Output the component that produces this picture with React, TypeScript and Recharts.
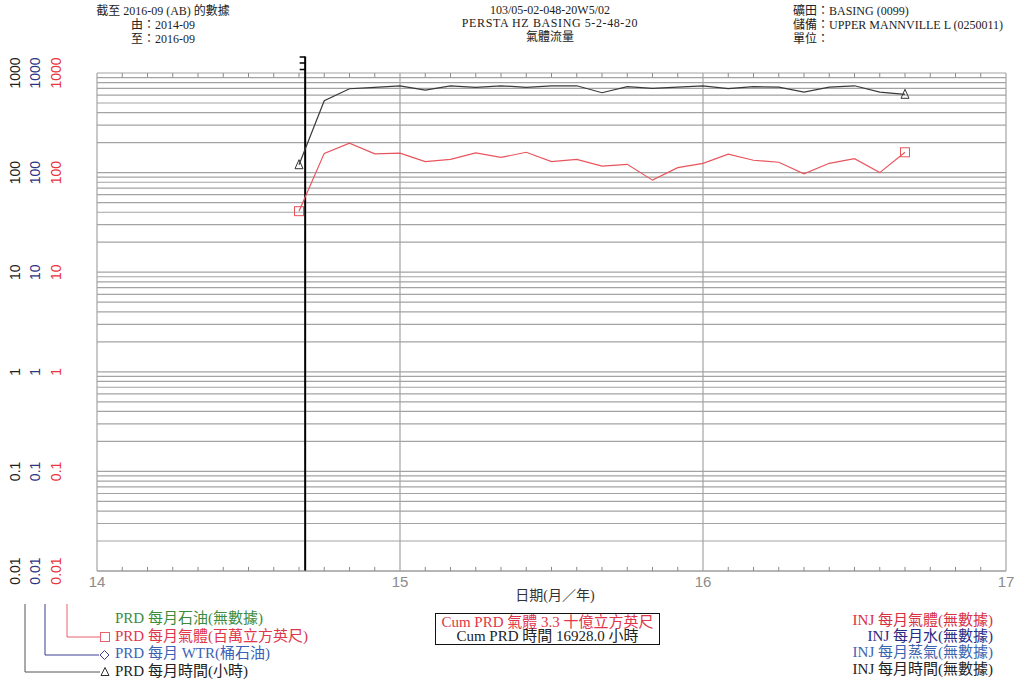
import React from 'react';
import { LineChart, Line, XAxis, YAxis, CartesianGrid, ReferenceLine } from 'recharts';

// Monthly production, first month on stream through 2016-09
const months = [
  '2014-09', '2014-10', '2014-11', '2014-12', '2015-01', '2015-02', '2015-03',
  '2015-04', '2015-05', '2015-06', '2015-07', '2015-08', '2015-09', '2015-10',
  '2015-11', '2015-12', '2016-01', '2016-02', '2016-03', '2016-04', '2016-05',
  '2016-06', '2016-07', '2016-08', '2016-09',
];
// gas, MMcf per month
const gasMMcf = [
  41, 156, 197, 154, 157, 129, 136, 158, 142, 160, 129, 136, 116, 121,
  84, 112, 124, 153, 133, 127, 97, 124, 138, 100, 160,
];
// producing hours per month
const hoursOn = [
  120, 527, 695, 718, 744, 672, 744, 718, 744, 718, 744, 744, 634, 730,
  702, 722, 744, 696, 730, 720, 644, 720, 744, 643, 611,
];

const yearTicks = [14, 15, 16, 17];
const decades = [0.01, 0.1, 1, 10, 100, 1000];
const minorSteps = [2, 3, 4, 5, 6, 7, 8, 9];
const yAxisColors = ['#1e1e1e', '#2d3483', '#e8343a'];
const onProduction = 14.687;
// month tick marks run from the frame edge a short way into the plot
const topTickSpan: [number, number] = [1000, 910];
const bottomTickSpan: [number, number] = [0.01, 0.011];

const serif = '"Liberation Serif", "Noto Sans CJK TC", serif';
const sans = '"Liberation Sans", Arial, sans-serif';

const toYear = (m: string) => Number(m.slice(2, 4)) + (Number(m.slice(5, 7)) - 1) / 12;

const data = months.map((m, i) => ({ t: toYear(m), gas: gasMMcf[i], hours: hoursOn[i] }));

const monthTicks = yearTicks
  .slice(0, -1)
  .flatMap((y) => Array.from({ length: 11 }, (_, k) => y + (k + 1) / 12));

const yTicks = decades.flatMap((d) =>
  d === 1000 ? [d] : [d, ...minorSteps.map((s) => d * s)]
);

const cumGas = (gasMMcf.reduce((a, b) => a + b, 0) / 1000).toFixed(1);
const cumHours = hoursOn.reduce((a, b) => a + b, 0).toFixed(1);

const renderYTick = (props: any) => {
  const { x, y, payload } = props;
  if (!decades.includes(payload.value)) return <g />;
  return (
    <g>
      {yAxisColors.map((c, i) => (
        <text
          key={c}
          transform={`translate(${x - 80 + i * 20.3}, ${y}) rotate(-90)`}
          textAnchor="middle"
          dominantBaseline="central"
          fill={c}
          fontSize={14}
          fontFamily={sans}
        >
          {String(payload.value)}
        </text>
      ))}
    </g>
  );
};

const renderTriangle = (props: any) => {
  const { cx, cy, index } = props;
  if (index !== 0 && index !== data.length - 1) return <g key={`tri-${index}`} />;
  return (
    <path
      key={`tri-${index}`}
      d={`M${cx},${cy - 5} L${cx + 4},${cy + 4} L${cx - 4},${cy + 4} Z`}
      fill="none"
      stroke="#333"
      strokeWidth={1}
    />
  );
};

const renderSquare = (props: any) => {
  const { cx, cy, index } = props;
  if (index !== 0 && index !== data.length - 1) return <g key={`sq-${index}`} />;
  return (
    <rect
      key={`sq-${index}`}
      x={cx - 4.5}
      y={cy - 4.5}
      width={9}
      height={9}
      fill="none"
      stroke="#e8555d"
      strokeWidth={1}
    />
  );
};

// on-production marker: heavy rule with a bracket above the plot
const renderOnProd = (props: any) => {
  const { x1, y1, y2 } = props;
  const top = Math.min(y1, y2);
  const bottom = Math.max(y1, y2);
  return (
    <g>
      <line x1={x1} x2={x1} y1={top - 16.5} y2={bottom} stroke="#000" strokeWidth={2} />
      {[-16, -10, -3.5].map((d) => (
        <line key={d} x1={x1 - 5.5} x2={x1} y1={top + d} y2={top + d} stroke="#000" strokeWidth={1.5} />
      ))}
    </g>
  );
};

const leftLegend = [
  { text: 'PRD 每月石油(無數據)', color: '#3d8b3d' },
  { text: 'PRD 每月氣體(百萬立方英尺)', color: '#e0364a' },
  { text: 'PRD 每月 WTR(桶石油)', color: '#3b62b5' },
  { text: 'PRD 每月時間(小時)', color: '#222' },
];

const rightLegend = [
  { text: 'INJ 每月氣體(無數據)', color: '#d8303f' },
  { text: 'INJ 每月水(無數據)', color: '#2a2a85' },
  { text: 'INJ 每月蒸氣(無數據)', color: '#3a64b0' },
  { text: 'INJ 每月時間(無數據)', color: '#222' },
];

const abs = (style: React.CSSProperties): React.CSSProperties => ({ position: 'absolute', ...style });

export default function App() {
  return (
    <div style={abs({ left: 0, top: 0, width: 1016, height: 683, background: '#fff', fontFamily: serif, color: '#222' })}>
      <div style={abs({ left: 13, top: 4, width: 300, textAlign: 'center', fontSize: 12, lineHeight: '14px' })}>
        <div>截至 2016-09 (AB) 的數據</div>
        <div>由：2014-09</div>
        <div>至：2016-09</div>
      </div>
      <div style={abs({ left: 400, top: 4, width: 300, textAlign: 'center', fontSize: 12, lineHeight: '13.4px' })}>
        <div>103/05-02-048-20W5/02</div>
        <div style={{ letterSpacing: 0.6 }}>PERSTA HZ BASING 5-2-48-20</div>
        <div>氣體流量</div>
      </div>
      <div style={abs({ left: 793, top: 4, fontSize: 12, lineHeight: '14.2px', whiteSpace: 'nowrap' })}>
        <div>礦田：BASING (0099)</div>
        <div>儲備：UPPER MANNVILLE L (0250011)</div>
        <div>單位：</div>
      </div>

      <div style={abs({ left: 0, top: 0 })}>
        <LineChart width={1016} height={683} data={data} margin={{ top: 73, right: 10, bottom: 0, left: 0 }}>
          <CartesianGrid stroke="#a3a3a3" strokeWidth={1.2} verticalValues={yearTicks} />
          <XAxis
            dataKey="t"
            type="number"
            domain={[14, 17]}
            ticks={yearTicks}
            interval={0}
            allowDataOverflow
            height={112}
            tickLine={false}
            tickSize={0}
            tickMargin={5}
            stroke="#9a9a9a"
            tick={{ fill: '#8c8c8c', fontSize: 15, fontFamily: sans }}
          />
          <YAxis
            type="number"
            scale="log"
            domain={[0.01, 1000]}
            ticks={yTicks}
            interval={0}
            allowDataOverflow
            width={97}
            tickSize={0}
            tickLine={false}
            axisLine={false}
            tick={renderYTick}
          />
          {monthTicks.map((m) => (
            <ReferenceLine
              key={`top-${m}`}
              segment={[{ x: m, y: topTickSpan[0] }, { x: m, y: topTickSpan[1] }]}
              stroke="#8a8a8a"
              strokeWidth={1}
            />
          ))}
          {monthTicks.map((m) => (
            <ReferenceLine
              key={`bottom-${m}`}
              segment={[{ x: m, y: bottomTickSpan[0] }, { x: m, y: bottomTickSpan[1] }]}
              stroke="#8a8a8a"
              strokeWidth={1}
            />
          ))}
          <ReferenceLine x={onProduction} shape={renderOnProd} />
          <Line
            type="linear"
            dataKey="hours"
            stroke="#3a3a3a"
            strokeWidth={1.2}
            dot={renderTriangle}
            activeDot={false}
            isAnimationActive={false}
          />
          <Line
            type="linear"
            dataKey="gas"
            stroke="#e8555d"
            strokeWidth={1.2}
            dot={renderSquare}
            activeDot={false}
            isAnimationActive={false}
          />
        </LineChart>
      </div>

      <div style={abs({ left: 455, top: 587, width: 200, textAlign: 'center', fontSize: 14, lineHeight: '18px', color: '#333' })}>
        日期(月／年)
      </div>

      <svg width={1016} height={683} style={abs({ left: 0, top: 0, pointerEvents: 'none' })}>
        <path d="M67,604 V637 H100" fill="none" stroke="#e8606e" strokeWidth={1} />
        <rect x={100.5} y={632.5} width={9} height={9} fill="none" stroke="#e8606e" strokeWidth={1} />
        <path d="M45,604 V655 H99" fill="none" stroke="#3d3d96" strokeWidth={1} />
        <path d="M104.5,650.5 L109,655 L104.5,659.5 L100,655 Z" fill="none" stroke="#3d3d96" strokeWidth={1} />
        <path d="M25,604 V672 H100" fill="none" stroke="#555" strokeWidth={1} />
        <path d="M105,667.5 L109,675.5 L101,675.5 Z" fill="none" stroke="#333" strokeWidth={1} />
      </svg>

      <div style={abs({ left: 115, top: 610, fontSize: 15, lineHeight: '17.6px', whiteSpace: 'nowrap' })}>
        {leftLegend.map((r) => (
          <div key={r.text} style={{ color: r.color }}>{r.text}</div>
        ))}
      </div>

      <div
        style={abs({
          left: 435,
          top: 613,
          width: 223,
          height: 29,
          border: '1.5px solid #111',
          textAlign: 'center',
          fontSize: 15,
          lineHeight: '14px',
          paddingTop: 1,
          whiteSpace: 'nowrap',
        })}
      >
        <div style={{ color: '#e0364a' }}>Cum PRD 氣體 {cumGas} 十億立方英尺</div>
        <div style={{ color: '#222' }}>Cum PRD 時間 {cumHours} 小時</div>
      </div>

      <div style={abs({ left: 693, top: 612, width: 300, textAlign: 'right', fontSize: 15, lineHeight: '16.2px', whiteSpace: 'nowrap' })}>
        {rightLegend.map((r) => (
          <div key={r.text} style={{ color: r.color }}>{r.text}</div>
        ))}
      </div>
    </div>
  );
}
